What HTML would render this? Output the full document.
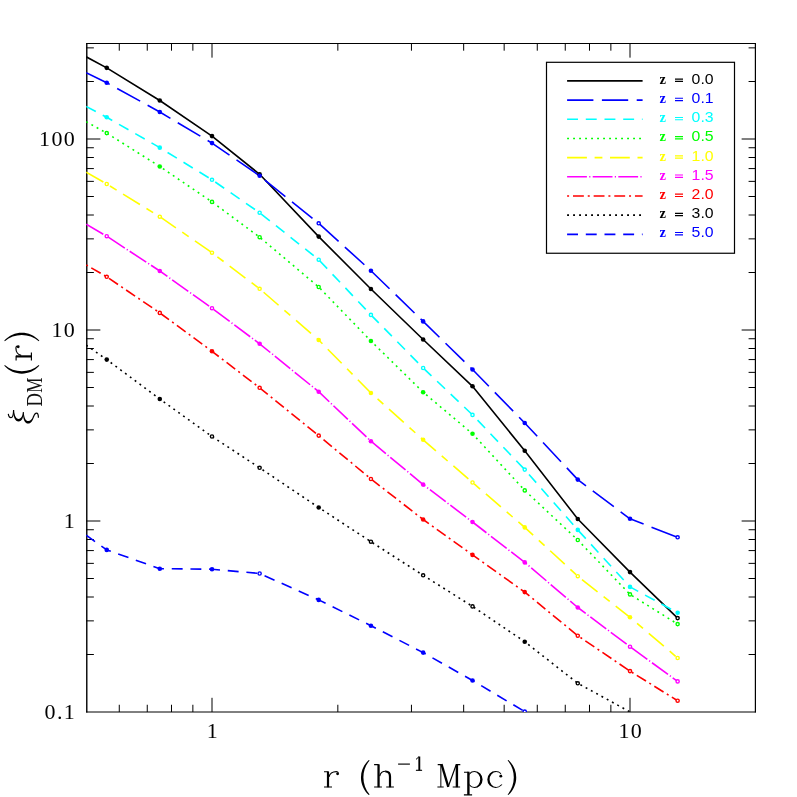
<!DOCTYPE html>
<html><head><meta charset="utf-8"><title>xi_DM(r)</title>
<style>
html,body{margin:0;padding:0;background:#fff;}
body{width:797px;height:797px;overflow:hidden;font-family:"Liberation Serif",serif;}
svg{display:block;}
text{filter:opacity(0.999);}
.tl{font-family:"Liberation Serif",serif;font-size:22px;fill:#000;letter-spacing:1.3px;}
.lz{font-family:"Liberation Serif",serif;font-weight:bold;font-size:14.5px;}
.ln{font-family:"Liberation Sans",sans-serif;font-size:14px;}
.ax{font-family:"Liberation Serif",serif;font-size:36px;fill:#111;}
</style></head><body>
<svg width="797" height="797" viewBox="0 0 797 797">
<rect x="0" y="0" width="797" height="797" fill="#ffffff"/>
<defs><clipPath id="clip"><rect x="86.17" y="43.45" width="669.66" height="668.55"/></clipPath></defs>

<g stroke="#000" fill="none">
<path d="M86.78 42.9 V712.5" stroke-width="1.4"/>
<path d="M755.4 42.9 V712.5" stroke-width="1.2"/>
<path d="M86.1 43.45 H755.8" stroke-width="1.1"/>
<path d="M86.1 712.0 H755.8" stroke-width="1.0"/>
</g>
<path d="M119.27 712.00 v-7.25 M119.27 43.45 v7.25 M147.25 712.00 v-7.25 M147.25 43.45 v7.25 M171.49 712.00 v-7.25 M171.49 43.45 v7.25 M192.87 712.00 v-7.25 M192.87 43.45 v7.25 M212.00 712.00 v-14.20 M212.00 43.45 v14.20 M337.83 712.00 v-7.25 M337.83 43.45 v7.25 M411.44 712.00 v-7.25 M411.44 43.45 v7.25 M463.66 712.00 v-7.25 M463.66 43.45 v7.25 M504.17 712.00 v-7.25 M504.17 43.45 v7.25 M537.27 712.00 v-7.25 M537.27 43.45 v7.25 M565.25 712.00 v-7.25 M565.25 43.45 v7.25 M589.49 712.00 v-7.25 M589.49 43.45 v7.25 M610.87 712.00 v-7.25 M610.87 43.45 v7.25 M630.00 712.00 v-14.20 M630.00 43.45 v14.20 M86.17 654.50 h7.70 M755.83 654.50 h-7.25 M86.17 620.87 h7.70 M755.83 620.87 h-7.25 M86.17 597.01 h7.70 M755.83 597.01 h-7.25 M86.17 578.50 h7.70 M755.83 578.50 h-7.25 M86.17 563.37 h7.70 M755.83 563.37 h-7.25 M86.17 550.59 h7.70 M755.83 550.59 h-7.25 M86.17 539.51 h7.70 M755.83 539.51 h-7.25 M86.17 529.74 h7.70 M755.83 529.74 h-7.25 M86.17 521.00 h14.20 M755.83 521.00 h-14.20 M86.17 463.50 h7.70 M755.83 463.50 h-7.25 M86.17 429.87 h7.70 M755.83 429.87 h-7.25 M86.17 406.01 h7.70 M755.83 406.01 h-7.25 M86.17 387.50 h7.70 M755.83 387.50 h-7.25 M86.17 372.37 h7.70 M755.83 372.37 h-7.25 M86.17 359.59 h7.70 M755.83 359.59 h-7.25 M86.17 348.51 h7.70 M755.83 348.51 h-7.25 M86.17 338.74 h7.70 M755.83 338.74 h-7.25 M86.17 330.00 h14.20 M755.83 330.00 h-14.20 M86.17 272.50 h7.70 M755.83 272.50 h-7.25 M86.17 238.87 h7.70 M755.83 238.87 h-7.25 M86.17 215.01 h7.70 M755.83 215.01 h-7.25 M86.17 196.50 h7.70 M755.83 196.50 h-7.25 M86.17 181.37 h7.70 M755.83 181.37 h-7.25 M86.17 168.59 h7.70 M755.83 168.59 h-7.25 M86.17 157.51 h7.70 M755.83 157.51 h-7.25 M86.17 147.74 h7.70 M755.83 147.74 h-7.25 M86.17 139.00 h14.20 M755.83 139.00 h-14.20 M86.17 81.50 h7.70 M755.83 81.50 h-7.25 M86.17 47.87 h7.70 M755.83 47.87 h-7.25" stroke="#000" stroke-width="1.0" fill="none"/>
<g clip-path="url(#clip)" fill="none" stroke-width="1.6" stroke-linecap="butt" stroke-linejoin="round">
<path d="M86.17 56.82 L106.74 67.85 L159.78 100.50 L212.00 136.10 L259.63 174.30 L318.70 236.60 L370.93 289.00 L423.15 339.50 L472.52 386.30 L524.74 450.80 L577.78 519.00 L630.00 572.10 L677.63 618.10" stroke="#000000"/>
<path d="M86.17 72.64 L106.74 82.70 L159.78 112.00 L212.00 143.10 L259.63 175.80 L318.70 223.30 L370.93 270.70 L423.15 321.40 L472.52 369.50 L524.74 423.00 L577.78 479.60 L630.00 518.80 L677.63 537.30" stroke="#0000ff" stroke-dasharray="26.3 8.5"/>
<path d="M86.17 106.47 L106.74 117.30 L159.78 147.65 L212.00 179.80 L259.63 212.70 L318.70 259.70 L370.93 314.90 L423.15 368.00 L472.52 414.90 L524.74 469.60 L577.78 529.90 L630.00 586.90 L677.63 612.80" stroke="#00ffff" stroke-dasharray="10.9 7.8"/>
<path d="M86.17 121.71 L106.74 133.10 L159.78 166.50 L212.00 201.90 L259.63 237.20 L318.70 287.00 L370.93 341.00 L423.15 392.20 L472.52 433.80 L524.74 490.40 L577.78 540.00 L630.00 594.40 L677.63 624.10" stroke="#00ff00" stroke-dasharray="1.9 4.1"/>
<path d="M86.17 172.20 L106.74 184.00 L159.78 216.70 L212.00 252.70 L259.63 288.80 L318.70 340.00 L370.93 393.00 L423.15 439.80 L472.52 482.50 L524.74 527.40 L577.78 576.20 L630.00 617.30 L677.63 658.00" stroke="#ffff00" stroke-dasharray="19.8 7.7 7.8 7.6"/>
<path d="M86.17 224.29 L106.74 236.20 L159.78 271.00 L212.00 308.20 L259.63 343.80 L318.70 391.70 L370.93 441.20 L423.15 484.60 L472.52 522.00 L524.74 562.40 L577.78 607.50 L630.00 646.70 L677.63 681.40" stroke="#ff00ff" stroke-dasharray="19.8 2.3 1.2 2.3"/>
<path d="M86.17 264.89 L106.74 276.80 L159.78 312.90 L212.00 351.30 L259.63 387.80 L318.70 435.60 L370.93 479.00 L423.15 519.50 L472.52 554.90 L524.74 592.10 L577.78 635.70 L630.00 671.10 L677.63 700.70" stroke="#ff0000" stroke-dasharray="2 3.9 10.85 3.9"/>
<path d="M86.17 345.13 L106.74 359.60 L159.78 399.00 L212.00 436.50 L259.63 467.80 L318.70 507.50 L370.93 541.70 L423.15 575.30 L472.52 606.40 L524.74 641.70 L577.78 683.30 L630.00 711.90 L677.63 735.00" stroke="#000000" stroke-dasharray="1.9 4.1"/>
<path d="M86.17 535.22 L106.74 549.90 L159.78 568.70 L212.00 569.20 L259.63 573.50 L318.70 599.90 L370.93 625.70 L423.15 652.60 L472.52 680.50 L524.74 711.60 L577.78 745.00" stroke="#0000ff" stroke-dasharray="10.9 7.8"/>
</g>
<g clip-path="url(#clip)">
<circle cx="106.74" cy="67.85" r="2.3" fill="#000000"/>
<circle cx="159.78" cy="100.50" r="2.3" fill="#000000"/>
<circle cx="212.00" cy="136.10" r="2.3" fill="#000000"/>
<circle cx="259.63" cy="174.30" r="2.3" fill="#000000"/>
<circle cx="318.70" cy="236.60" r="2.3" fill="#000000"/>
<circle cx="370.93" cy="289.00" r="2.3" fill="#000000"/>
<circle cx="423.15" cy="339.50" r="2.3" fill="#000000"/>
<circle cx="472.52" cy="386.30" r="2.3" fill="#000000"/>
<circle cx="524.74" cy="450.80" r="2.3" fill="#000000"/>
<circle cx="577.78" cy="519.00" r="2.3" fill="#000000"/>
<circle cx="630.00" cy="572.10" r="2.3" fill="#000000"/>
<circle cx="677.63" cy="618.10" r="1.6" fill="#ffffff" stroke="#000000" stroke-width="1.4"/>
<circle cx="106.74" cy="82.70" r="2.3" fill="#0000ff"/>
<circle cx="159.78" cy="112.00" r="2.3" fill="#0000ff"/>
<circle cx="212.00" cy="143.10" r="2.3" fill="#0000ff"/>
<circle cx="259.63" cy="175.80" r="2.3" fill="#0000ff"/>
<circle cx="318.70" cy="223.30" r="1.6" fill="#ffffff" stroke="#0000ff" stroke-width="1.4"/>
<circle cx="370.93" cy="270.70" r="2.3" fill="#0000ff"/>
<circle cx="423.15" cy="321.40" r="2.3" fill="#0000ff"/>
<circle cx="472.52" cy="369.50" r="2.3" fill="#0000ff"/>
<circle cx="524.74" cy="423.00" r="2.3" fill="#0000ff"/>
<circle cx="577.78" cy="479.60" r="2.3" fill="#0000ff"/>
<circle cx="630.00" cy="518.80" r="2.3" fill="#0000ff"/>
<circle cx="677.63" cy="537.30" r="1.6" fill="#ffffff" stroke="#0000ff" stroke-width="1.4"/>
<circle cx="106.74" cy="117.30" r="2.3" fill="#00ffff"/>
<circle cx="159.78" cy="147.65" r="2.3" fill="#00ffff"/>
<circle cx="212.00" cy="179.80" r="1.6" fill="#ffffff" stroke="#00ffff" stroke-width="1.4"/>
<circle cx="259.63" cy="212.70" r="1.6" fill="#ffffff" stroke="#00ffff" stroke-width="1.4"/>
<circle cx="318.70" cy="259.70" r="1.6" fill="#ffffff" stroke="#00ffff" stroke-width="1.4"/>
<circle cx="370.93" cy="314.90" r="1.6" fill="#ffffff" stroke="#00ffff" stroke-width="1.4"/>
<circle cx="423.15" cy="368.00" r="1.6" fill="#ffffff" stroke="#00ffff" stroke-width="1.4"/>
<circle cx="472.52" cy="414.90" r="1.6" fill="#ffffff" stroke="#00ffff" stroke-width="1.4"/>
<circle cx="524.74" cy="469.60" r="1.6" fill="#ffffff" stroke="#00ffff" stroke-width="1.4"/>
<circle cx="577.78" cy="529.90" r="2.3" fill="#00ffff"/>
<circle cx="630.00" cy="586.90" r="2.3" fill="#00ffff"/>
<circle cx="677.63" cy="612.80" r="2.3" fill="#00ffff"/>
<circle cx="106.74" cy="133.10" r="1.6" fill="#ffffff" stroke="#00ff00" stroke-width="1.4"/>
<circle cx="159.78" cy="166.50" r="2.3" fill="#00ff00"/>
<circle cx="212.00" cy="201.90" r="1.6" fill="#ffffff" stroke="#00ff00" stroke-width="1.4"/>
<circle cx="259.63" cy="237.20" r="1.6" fill="#ffffff" stroke="#00ff00" stroke-width="1.4"/>
<circle cx="318.70" cy="287.00" r="1.6" fill="#ffffff" stroke="#00ff00" stroke-width="1.4"/>
<circle cx="370.93" cy="341.00" r="2.3" fill="#00ff00"/>
<circle cx="423.15" cy="392.20" r="2.3" fill="#00ff00"/>
<circle cx="472.52" cy="433.80" r="2.3" fill="#00ff00"/>
<circle cx="524.74" cy="490.40" r="1.6" fill="#ffffff" stroke="#00ff00" stroke-width="1.4"/>
<circle cx="577.78" cy="540.00" r="1.6" fill="#ffffff" stroke="#00ff00" stroke-width="1.4"/>
<circle cx="630.00" cy="594.40" r="1.6" fill="#ffffff" stroke="#00ff00" stroke-width="1.4"/>
<circle cx="677.63" cy="624.10" r="1.6" fill="#ffffff" stroke="#00ff00" stroke-width="1.4"/>
<circle cx="106.74" cy="184.00" r="1.6" fill="#ffffff" stroke="#ffff00" stroke-width="1.4"/>
<circle cx="159.78" cy="216.70" r="1.6" fill="#ffffff" stroke="#ffff00" stroke-width="1.4"/>
<circle cx="212.00" cy="252.70" r="1.6" fill="#ffffff" stroke="#ffff00" stroke-width="1.4"/>
<circle cx="259.63" cy="288.80" r="1.6" fill="#ffffff" stroke="#ffff00" stroke-width="1.4"/>
<circle cx="318.70" cy="340.00" r="2.3" fill="#ffff00"/>
<circle cx="370.93" cy="393.00" r="2.3" fill="#ffff00"/>
<circle cx="423.15" cy="439.80" r="2.3" fill="#ffff00"/>
<circle cx="472.52" cy="482.50" r="1.6" fill="#ffffff" stroke="#ffff00" stroke-width="1.4"/>
<circle cx="524.74" cy="527.40" r="2.3" fill="#ffff00"/>
<circle cx="577.78" cy="576.20" r="1.6" fill="#ffffff" stroke="#ffff00" stroke-width="1.4"/>
<circle cx="630.00" cy="617.30" r="2.3" fill="#ffff00"/>
<circle cx="677.63" cy="658.00" r="1.6" fill="#ffffff" stroke="#ffff00" stroke-width="1.4"/>
<circle cx="106.74" cy="236.20" r="1.6" fill="#ffffff" stroke="#ff00ff" stroke-width="1.4"/>
<circle cx="159.78" cy="271.00" r="2.3" fill="#ff00ff"/>
<circle cx="212.00" cy="308.20" r="1.6" fill="#ffffff" stroke="#ff00ff" stroke-width="1.4"/>
<circle cx="259.63" cy="343.80" r="2.3" fill="#ff00ff"/>
<circle cx="318.70" cy="391.70" r="2.3" fill="#ff00ff"/>
<circle cx="370.93" cy="441.20" r="2.3" fill="#ff00ff"/>
<circle cx="423.15" cy="484.60" r="2.3" fill="#ff00ff"/>
<circle cx="472.52" cy="522.00" r="2.3" fill="#ff00ff"/>
<circle cx="524.74" cy="562.40" r="2.3" fill="#ff00ff"/>
<circle cx="577.78" cy="607.50" r="2.3" fill="#ff00ff"/>
<circle cx="630.00" cy="646.70" r="1.6" fill="#ffffff" stroke="#ff00ff" stroke-width="1.4"/>
<circle cx="677.63" cy="681.40" r="1.6" fill="#ffffff" stroke="#ff00ff" stroke-width="1.4"/>
<circle cx="106.74" cy="276.80" r="1.6" fill="#ffffff" stroke="#ff0000" stroke-width="1.4"/>
<circle cx="159.78" cy="312.90" r="1.6" fill="#ffffff" stroke="#ff0000" stroke-width="1.4"/>
<circle cx="212.00" cy="351.30" r="2.3" fill="#ff0000"/>
<circle cx="259.63" cy="387.80" r="1.6" fill="#ffffff" stroke="#ff0000" stroke-width="1.4"/>
<circle cx="318.70" cy="435.60" r="1.6" fill="#ffffff" stroke="#ff0000" stroke-width="1.4"/>
<circle cx="370.93" cy="479.00" r="1.6" fill="#ffffff" stroke="#ff0000" stroke-width="1.4"/>
<circle cx="423.15" cy="519.50" r="2.3" fill="#ff0000"/>
<circle cx="472.52" cy="554.90" r="2.3" fill="#ff0000"/>
<circle cx="524.74" cy="592.10" r="2.3" fill="#ff0000"/>
<circle cx="577.78" cy="635.70" r="1.6" fill="#ffffff" stroke="#ff0000" stroke-width="1.4"/>
<circle cx="630.00" cy="671.10" r="1.6" fill="#ffffff" stroke="#ff0000" stroke-width="1.4"/>
<circle cx="677.63" cy="700.70" r="1.6" fill="#ffffff" stroke="#ff0000" stroke-width="1.4"/>
<circle cx="106.74" cy="359.60" r="2.3" fill="#000000"/>
<circle cx="159.78" cy="399.00" r="2.3" fill="#000000"/>
<circle cx="212.00" cy="436.50" r="1.6" fill="#ffffff" stroke="#000000" stroke-width="1.4"/>
<circle cx="259.63" cy="467.80" r="1.6" fill="#ffffff" stroke="#000000" stroke-width="1.4"/>
<circle cx="318.70" cy="507.50" r="2.3" fill="#000000"/>
<circle cx="370.93" cy="541.70" r="1.6" fill="#ffffff" stroke="#000000" stroke-width="1.4"/>
<circle cx="423.15" cy="575.30" r="1.6" fill="#ffffff" stroke="#000000" stroke-width="1.4"/>
<circle cx="472.52" cy="606.40" r="1.6" fill="#ffffff" stroke="#000000" stroke-width="1.4"/>
<circle cx="524.74" cy="641.70" r="2.3" fill="#000000"/>
<circle cx="577.78" cy="683.30" r="1.6" fill="#ffffff" stroke="#000000" stroke-width="1.4"/>
<circle cx="106.74" cy="549.90" r="2.3" fill="#0000ff"/>
<circle cx="159.78" cy="568.70" r="2.3" fill="#0000ff"/>
<circle cx="212.00" cy="569.20" r="2.3" fill="#0000ff"/>
<circle cx="259.63" cy="573.50" r="1.6" fill="#ffffff" stroke="#0000ff" stroke-width="1.4"/>
<circle cx="318.70" cy="599.90" r="2.3" fill="#0000ff"/>
<circle cx="370.93" cy="625.70" r="2.3" fill="#0000ff"/>
<circle cx="423.15" cy="652.60" r="2.3" fill="#0000ff"/>
<circle cx="472.52" cy="680.50" r="2.3" fill="#0000ff"/>
<circle cx="524.74" cy="711.60" r="1.6" fill="#ffffff" stroke="#0000ff" stroke-width="1.4"/>
</g>
<text class="tl" x="76.0" y="146.10" text-anchor="end">100</text>
<text class="tl" x="76.0" y="337.10" text-anchor="end">10</text>
<text class="tl" x="76.0" y="528.10" text-anchor="end">1</text>
<text class="tl" x="76.0" y="719.10" text-anchor="end">0.1</text>
<text class="tl" x="212.80" y="737.9" text-anchor="middle">1</text>
<text class="tl" x="630.80" y="737.9" text-anchor="middle">10</text>
<rect x="546.5" y="62.3" width="188" height="190.95" fill="#fff" stroke="#000" stroke-width="1.2"/>
<path d="M567.1 80.90 H642.6" stroke="#000000" stroke-width="1.6" fill="none"/>
<text class="lz" x="659.4" y="83.80" fill="#000000">z</text>
<path d="M675 79.10 H683 M675 81.40 H683" stroke="#000000" stroke-width="1.15" fill="none"/>
<text class="ln" x="691.6" y="83.90" fill="#000000" textLength="22" lengthAdjust="spacingAndGlyphs">0.0</text>
<path d="M567.1 100.08 H642.6" stroke="#0000ff" stroke-width="1.6" fill="none" stroke-dasharray="26.3 8.5"/>
<text class="lz" x="659.4" y="102.98" fill="#0000ff">z</text>
<path d="M675 98.28 H683 M675 100.58 H683" stroke="#0000ff" stroke-width="1.15" fill="none"/>
<text class="ln" x="691.6" y="103.08" fill="#0000ff" textLength="22" lengthAdjust="spacingAndGlyphs">0.1</text>
<path d="M567.1 119.26 H642.6" stroke="#00ffff" stroke-width="1.6" fill="none" stroke-dasharray="10.9 7.8"/>
<text class="lz" x="659.4" y="122.16" fill="#00ffff">z</text>
<path d="M675 117.46 H683 M675 119.76 H683" stroke="#00ffff" stroke-width="1.15" fill="none"/>
<text class="ln" x="691.6" y="122.26" fill="#00ffff" textLength="22" lengthAdjust="spacingAndGlyphs">0.3</text>
<path d="M567.1 138.44 H642.6" stroke="#00ff00" stroke-width="1.6" fill="none" stroke-dasharray="1.9 4.1"/>
<text class="lz" x="659.4" y="141.34" fill="#00ff00">z</text>
<path d="M675 136.64 H683 M675 138.94 H683" stroke="#00ff00" stroke-width="1.15" fill="none"/>
<text class="ln" x="691.6" y="141.44" fill="#00ff00" textLength="22" lengthAdjust="spacingAndGlyphs">0.5</text>
<path d="M567.1 157.62 H642.6" stroke="#ffff00" stroke-width="1.6" fill="none" stroke-dasharray="19.8 7.7 7.8 7.6"/>
<text class="lz" x="659.4" y="160.52" fill="#ffff00">z</text>
<path d="M675 155.82 H683 M675 158.12 H683" stroke="#ffff00" stroke-width="1.15" fill="none"/>
<text class="ln" x="691.6" y="160.62" fill="#ffff00" textLength="22" lengthAdjust="spacingAndGlyphs">1.0</text>
<path d="M567.1 176.80 H642.6" stroke="#ff00ff" stroke-width="1.6" fill="none" stroke-dasharray="19.8 2.3 1.2 2.3"/>
<text class="lz" x="659.4" y="179.70" fill="#ff00ff">z</text>
<path d="M675 175.00 H683 M675 177.30 H683" stroke="#ff00ff" stroke-width="1.15" fill="none"/>
<text class="ln" x="691.6" y="179.80" fill="#ff00ff" textLength="22" lengthAdjust="spacingAndGlyphs">1.5</text>
<path d="M567.1 195.98 H642.6" stroke="#ff0000" stroke-width="1.6" fill="none" stroke-dasharray="2 3.9 10.85 3.9"/>
<text class="lz" x="659.4" y="198.88" fill="#ff0000">z</text>
<path d="M675 194.18 H683 M675 196.48 H683" stroke="#ff0000" stroke-width="1.15" fill="none"/>
<text class="ln" x="691.6" y="198.98" fill="#ff0000" textLength="22" lengthAdjust="spacingAndGlyphs">2.0</text>
<path d="M567.1 215.16 H642.6" stroke="#000000" stroke-width="1.6" fill="none" stroke-dasharray="1.9 4.1"/>
<text class="lz" x="659.4" y="218.06" fill="#000000">z</text>
<path d="M675 213.36 H683 M675 215.66 H683" stroke="#000000" stroke-width="1.15" fill="none"/>
<text class="ln" x="691.6" y="218.16" fill="#000000" textLength="22" lengthAdjust="spacingAndGlyphs">3.0</text>
<path d="M567.1 234.34 H642.6" stroke="#0000ff" stroke-width="1.6" fill="none" stroke-dasharray="10.9 7.8"/>
<text class="lz" x="659.4" y="237.24" fill="#0000ff">z</text>
<path d="M675 232.54 H683 M675 234.84 H683" stroke="#0000ff" stroke-width="1.15" fill="none"/>
<text class="ln" x="691.6" y="237.34" fill="#0000ff" textLength="22" lengthAdjust="spacingAndGlyphs">5.0</text>
<g stroke="#000" fill="none" stroke-linecap="butt">
<g transform="translate(324.00 787.05)"><path d="M4 -15.4 V0.2" stroke-width="2.2"/><path d="M0 -15.3 H4.6 M0 0 H8" stroke-width="1.15"/><path d="M5 -10.2 C5.5 -13.4 8.6 -15.5 12.3 -15.5 Q13.8 -15.5 14.4 -14.3" stroke-width="1.2"/><circle cx="13.6" cy="-13.2" r="1.45" fill="#000" stroke="none"/></g>
<g transform="translate(360.95 787.05)"><path d="M7.85 -27.1 C-2.6 -17.5 -2.6 -1.7 7.85 7.9 L8.65 7.4 C0.4 -2.0 0.4 -17.2 8.65 -26.6 Z" fill="#000" stroke="none"/></g>
<g transform="translate(374.10 787.05)"><path d="M4.45 -22.7 V0.2" stroke-width="2.3"/><path d="M0 -22.4 H4.6 M0 0 H7.8 M12.1 0 H19.8" stroke-width="1.15"/><path d="M5.6 -11 C6.2 -13.9 8.7 -15.8 11.6 -15.8" stroke-width="1.2"/><path d="M11.2 -15.55 C14.6 -15.7 15.9 -13.6 15.9 -10.4 V0.2" stroke-width="2.2"/></g>
<path d="M398.1 764.1 H409.9" stroke-width="1.15"/>
<g transform="translate(415.90 770.30)"><path d="M3.4 -13.8 V0.1" stroke-width="1.9"/><path d="M0.1 -10.9 L3 -13.5" stroke-width="1.0"/><path d="M0 0 H6.2" stroke-width="1.1"/></g>
<g transform="translate(437.40 787.05)"><path d="M3.45 -22.4 V0" stroke-width="1.0"/><path d="M0.3 -22.4 H4.4 M0 0 H6.3 M18.5 -22.4 H22.9 M15.3 0 H22.7" stroke-width="1.15"/><path d="M4.1 -22.9 L10.9 -0.2" stroke-width="2.3"/><path d="M10.9 -0.6 L18.9 -22.6" stroke-width="1.15"/><path d="M19.5 -22.4 V0.2" stroke-width="2.4"/></g>
<g transform="translate(463.90 787.05)"><path d="M4.5 -15.3 V7.9" stroke-width="2.4"/><path d="M0.1 -14.8 H4.6 M0 7.8 H8.2" stroke-width="1.15"/><clipPath id="cpa"><rect x="5.5" y="-18" width="16" height="22"/></clipPath><path clip-path="url(#cpa)" fill="#000" stroke="none" fill-rule="evenodd" d="M2.7 -7.55 a8 8.55 0 1 0 16 0 a8 8.55 0 1 0 -16 0 Z M4.3 -7.55 a6.0 7.45 0 1 0 12 0 a6.0 7.45 0 1 0 -12 0 Z"/></g>
<g transform="translate(487.30 787.05)"><clipPath id="cca"><path d="M-2 -18 H13.9 V-12.3 H10 V-3.4 L16.5 -2.3 V3 H-2 Z"/></clipPath><path clip-path="url(#cca)" fill="#000" stroke="none" fill-rule="evenodd" d="M0 -7.6 a8.3 8.5 0 1 0 16.6 0 a8.3 8.5 0 1 0 -16.6 0 Z M2.3 -7.6 a6.6 7.45 0 1 0 13.2 0 a6.6 7.45 0 1 0 -13.2 0 Z"/><circle cx="13.5" cy="-10.9" r="1.45" fill="#000" stroke="none"/></g>
<g transform="translate(507.60 787.05)"><path d="M0.8 -27.1 C11.25 -17.5 11.25 -1.7 0.8 7.9 L0 7.4 C8.25 -2.0 8.25 -17.2 0 -26.6 Z" fill="#000" stroke="none"/></g>
</g>
<g stroke="#000" fill="none">
<path d="M8.3 413.9 C8.6 416.2 9.8 417.6 11.0 417.6 C12.6 417.6 13.5 415.4 13.6 409.9" stroke-width="1.2"/>
<path d="M13.2 410 C13.3 417.8 15.2 421.4 18.6 421.4 C21.9 421.4 23.5 418.2 23.75 412.1 L22.9 412.1 C22.4 416.6 21.1 418.9 18.7 418.9 C16.2 418.9 14.6 416.4 14.0 410 Z" fill="#000" stroke="none"/>
<path d="M22.9 412.2 C23.0 419.9 24.9 423.5 28.2 423.5 C31.0 423.5 32.6 421.0 33.9 417.0 L33.0 416.6 C31.8 419.6 30.6 421.0 28.3 421.0 C25.8 421.0 24.3 418.6 23.7 412.2 Z" fill="#000" stroke="none"/>
<path d="M33.3 417.2 C34.3 414.5 35.3 413.1 36.5 413.1 C37.8 413.1 38.4 415.0 38.4 417.8" stroke-width="1.2"/>
</g>
<g transform="translate(32 423.3) rotate(-90)">
<g class="ax">
<text x="16.90" y="9.80" font-size="22.20" textLength="13.40" lengthAdjust="spacingAndGlyphs">D</text>
<text x="30.50" y="9.80" font-size="22.20" textLength="15.30" lengthAdjust="spacingAndGlyphs">M</text>
</g>
<g stroke="#000" fill="none">
<g transform="translate(49.60 -0.60)"><path d="M7.85 -27.1 C-2.6 -17.5 -2.6 -1.7 7.85 7.9 L8.65 7.4 C0.4 -2.0 0.4 -17.2 8.65 -26.6 Z" fill="#000" stroke="none"/></g>
<g transform="translate(62.90 -0.60)"><path d="M4 -15.4 V0.2" stroke-width="2.2"/><path d="M0 -15.3 H4.6 M0 0 H8" stroke-width="1.15"/><path d="M5 -10.2 C5.5 -13.4 8.6 -15.5 12.3 -15.5 Q13.8 -15.5 14.4 -14.3" stroke-width="1.2"/><circle cx="13.6" cy="-13.2" r="1.45" fill="#000" stroke="none"/></g>
<g transform="translate(82.00 -0.60)"><path d="M0.8 -27.1 C11.25 -17.5 11.25 -1.7 0.8 7.9 L0 7.4 C8.25 -2.0 8.25 -17.2 0 -26.6 Z" fill="#000" stroke="none"/></g>
</g></g>
</svg></body></html>
